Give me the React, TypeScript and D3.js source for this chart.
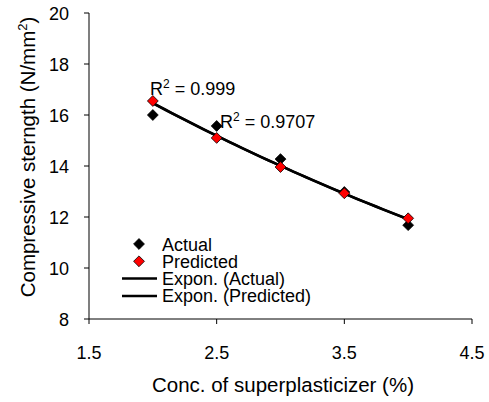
import * as d3 from 'd3';
import React from 'react';

const xValues = [2, 2.5, 3, 3.5, 4];
const actual = [16.0, 15.57, 14.27, 12.98, 11.68];
const predicted = [16.55, 15.1, 13.96, 12.93, 11.95];
const xTicks = [1.5, 2.5, 3.5, 4.5];
const yTicks = [8, 10, 12, 14, 16, 18, 20];
const legendItems = ['Actual', 'Predicted', 'Expon. (Actual)', 'Expon. (Predicted)'];

// exponential least-squares fit y = a*e^(b*x)
function expFit(xs: number[], ys: number[]) {
  const ly = ys.map(v => Math.log(v));
  const mx = d3.mean(xs)!;
  const my = d3.mean(ly)!;
  const b = d3.sum(xs.map((x, i) => (x - mx) * (ly[i] - my))) / d3.sum(xs.map(x => (x - mx) ** 2));
  const a = Math.exp(my - b * mx);
  return (x: number) => a * Math.exp(b * x);
}

export default function App() {
  const font = 'Liberation Sans, Arial, sans-serif';
  const x = d3.scaleLinear().domain([1.5, 4.5]).range([89, 472]);
  const y = d3.scaleLinear().domain([8, 20]).range([319, 13]);

  const fitA = expFit(xValues, actual);
  const fitP = expFit(xValues, predicted);
  const fx = d3.range(2, 4.0001, 0.05);
  const line = (f: (v: number) => number) =>
    d3.line<number>().x(d => x(d)).y(d => y(f(d)))(fx) as string;

  const diamond = d3.symbol().type(d3.symbolDiamond2).size(75)() as string;

  return (
    <svg width={489} height={402} style={{ position: 'absolute', left: 0, top: 0 }} fontFamily={font}>
      <rect width={489} height={402} fill="#fff" />
      {/* axes */}
      <line x1={89} x2={89} y1={13} y2={319} stroke="#555" strokeWidth={1.5} />
      <line x1={89} x2={472} y1={319} y2={319} stroke="#000" strokeWidth={1} />
      {yTicks.map(t => (
        <g key={'y' + t}>
          <line x1={84} x2={89} y1={y(t)} y2={y(t)} stroke="#000" />
          <text x={69} y={y(t) + 6.5} textAnchor="end" fontSize={18}>{t}</text>
        </g>
      ))}
      {xTicks.map(t => (
        <g key={'x' + t}>
          <line x1={x(t)} x2={x(t)} y1={319} y2={324} stroke="#000" />
          <text x={x(t)} y={359} textAnchor="middle" fontSize={18}>{t.toFixed(1)}</text>
        </g>
      ))}
      <text x={283} y={392} textAnchor="middle" fontSize={20.5}>Conc. of superplasticizer (%)</text>
      <text transform="translate(35,157) rotate(-90)" textAnchor="middle" fontSize={20.5}>
        Compressive sterngth (N/mm<tspan dy={-8} fontSize={13}>2</tspan><tspan dy={8}>)</tspan>
      </text>

      {/* trend lines */}
      <path d={line(fitA)} fill="none" stroke="#000" strokeWidth={2.5} />
      <path d={line(fitP)} fill="none" stroke="#000" strokeWidth={2.5} />

      {/* points */}
      {xValues.map((v, i) => (
        <path key={'a' + i} d={diamond} transform={`translate(${x(v)},${y(actual[i])})`} fill="#000" stroke="#000" strokeWidth={0.8} />
      ))}
      {xValues.map((v, i) => (
        <path key={'p' + i} d={diamond} transform={`translate(${x(v)},${y(predicted[i])})`} fill="#f00" stroke="#000" strokeWidth={0.8} />
      ))}

      {/* R2 labels */}
      <text x={150} y={95} fontSize={18}>R<tspan dy={-7} fontSize={12}>2</tspan><tspan dy={7}> = 0.999</tspan></text>
      <text x={220} y={128} fontSize={18}>R<tspan dy={-7} fontSize={12}>2</tspan><tspan dy={7}> = 0.9707</tspan></text>

      {/* legend */}
      {legendItems.map((name, i) => {
        const ly = 244 + i * 17.3;
        return (
          <g key={name}>
            {i < 2 ? (
              <path d={diamond} transform={`translate(139,${ly})`} fill={i === 0 ? '#000' : '#f00'} stroke="#000" strokeWidth={0.8} />
            ) : (
              <line x1={122} x2={157} y1={ly} y2={ly} stroke="#000" strokeWidth={2.5} />
            )}
            <text x={162} y={ly + 6.5} fontSize={18}>{name}</text>
          </g>
        );
      })}
    </svg>
  );
}
